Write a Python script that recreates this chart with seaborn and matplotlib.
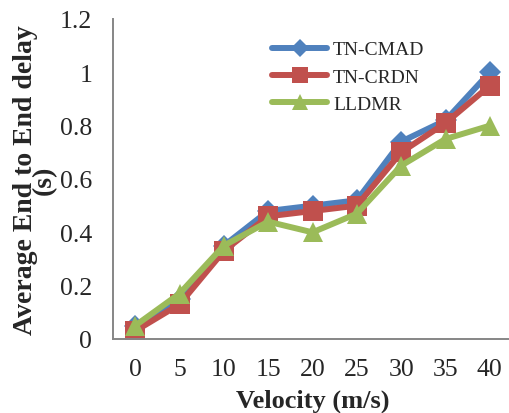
import pandas as pd
import matplotlib.pyplot as plt
import seaborn as sns
from matplotlib.ticker import FixedLocator

velocity = [0, 5, 10, 15, 20, 25, 30, 35, 40]
tn_cmad = [0.05, 0.15, 0.35, 0.48, 0.50, 0.52, 0.74, 0.82, 1.00]
tn_crdn = [0.03, 0.13, 0.33, 0.46, 0.48, 0.50, 0.70, 0.81, 0.95]
lldmr = [0.05, 0.17, 0.35, 0.44, 0.40, 0.47, 0.65, 0.75, 0.80]
series_names = ['TN-CMAD', 'TN-CRDN', 'LLDMR']

df = pd.DataFrame({
    'velocity': velocity * 3,
    'delay': tn_cmad + tn_crdn + lldmr,
    'protocol': [n for n in series_names for _ in velocity],
})

sns.set_style('white')
plt.rcParams['font.family'] = ['Liberation Serif', 'DejaVu Serif']

colors = {'TN-CMAD': '#4F81BD', 'TN-CRDN': '#C0504D', 'LLDMR': '#9BBB59'}
markers = {'TN-CMAD': 'D', 'TN-CRDN': 's', 'LLDMR': '^'}
sizes = {'TN-CMAD': 11, 'TN-CRDN': 14, 'LLDMR': 15}
legend_sizes = {'TN-CMAD': 9, 'TN-CRDN': 11, 'LLDMR': 11}

fig = plt.figure(figsize=(5.09, 4.14), dpi=100)
ax = fig.add_axes([113 / 509, 1 - 340 / 414, 399 / 509, 320 / 414])

for name in series_names:
    sub = df[df['protocol'] == name]
    sns.lineplot(data=sub, x='velocity', y='delay', ax=ax, color=colors[name],
                 marker=markers[name], markersize=sizes[name], markeredgewidth=0,
                 linewidth=4.3, label=name)

ax.set_xlim(-2.5, 42.5)
ax.set_ylim(0, 1.2)
ax.set_yticks([0, 0.2, 0.4, 0.6, 0.8, 1.0, 1.2])
ax.set_yticklabels(['0', '0.2', '0.4', '0.6', '0.8', '1', '1.2'])
ax.set_xticks(velocity)
ax.set_xticklabels([str(v) for v in velocity])
ax.xaxis.set_minor_locator(FixedLocator([-2.5 + 5 * i for i in range(10)]))
ax.tick_params(axis='x', which='major', length=0, pad=14, labelsize=18.5)
ax.tick_params(axis='x', which='minor', length=6, width=1.3, color='#868686', direction='out')
ax.tick_params(axis='y', length=6, width=1.3, color='#868686', direction='out',
               labelsize=18.5, pad=9)

for side in ['top', 'right']:
    ax.spines[side].set_visible(False)
for side in ['left', 'bottom']:
    ax.spines[side].set_color('#868686')
    ax.spines[side].set_linewidth(1.4)

ax.set_xlabel('Velocity (m/s)', fontsize=19, fontweight='bold', labelpad=6)
ax.set_ylabel('Average End to End delay\n(s)', fontsize=20, fontweight='bold',
              labelpad=2, linespacing=0.7)

leg = ax.legend(loc='upper left', bbox_to_anchor=(0.398, 0.932), frameon=False,
                fontsize=14, handlelength=2.85, handletextpad=0.3, labelspacing=0.5,
                borderaxespad=0, borderpad=0)
for line, name in zip(leg.get_lines(), series_names):
    line.set_markersize(legend_sizes[name])
    line.set_linewidth(4.3)

plt.savefig('out.png', dpi=100)
plt.close()
